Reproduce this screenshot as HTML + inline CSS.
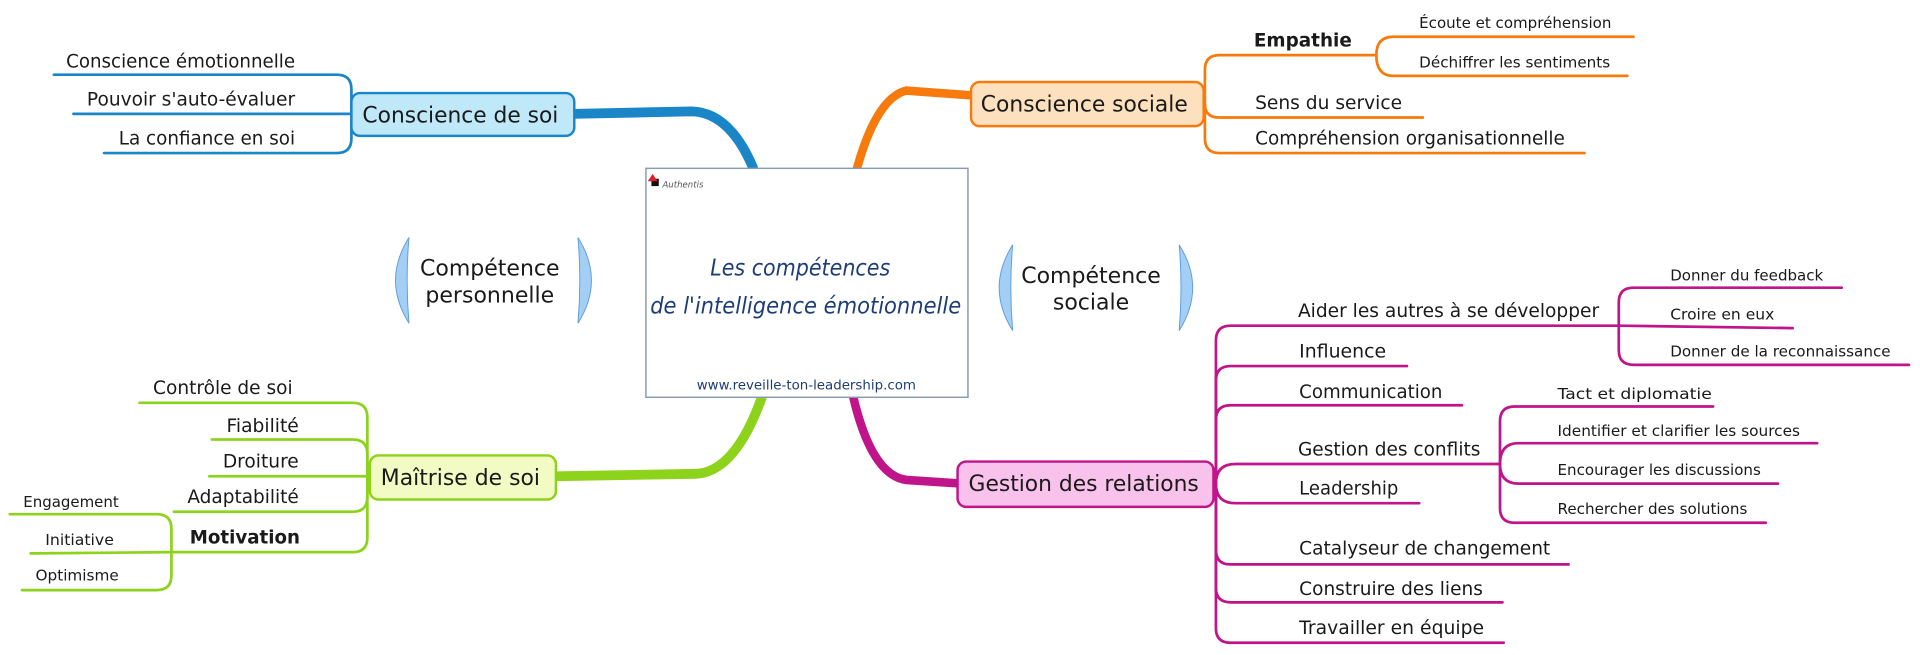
<!DOCTYPE html>
<html><head><meta charset="utf-8"><style>
html,body{margin:0;padding:0;background:#fff;width:1920px;height:655px;overflow:hidden}
svg{display:block}
text{font-family:"DejaVu Sans","Liberation Sans",sans-serif;fill:#1a1a1a}
.m{font-size:15px}.s{font-size:12.5px}.n{font-size:18px}.b{font-weight:bold}
</style></head><body>
<svg width="1920" height="655" viewBox="0 0 1568 535" preserveAspectRatio="none" xmlns="http://www.w3.org/2000/svg">
<g fill="none" stroke-linecap="round">
<path d="M468 93 L565 91 Q596 92 615 137" stroke="#1a86c8" stroke-width="8"/>
<path d="M700 137 Q716 80 740 74 L795 78" stroke="#f77a0c" stroke-width="7"/>
<path d="M455 389 L568 387 Q600 386 622 325" stroke="#8ed31b" stroke-width="8"/>
<path d="M697 325 Q712 388 740 392 L786 395" stroke="#c0148a" stroke-width="7"/>
<g stroke="#1a86c8" stroke-width="2.2">
<path d="M287 93 L287 73 Q287 61 275 61 L44 61"/>
<path d="M287 93 L60 93"/>
<path d="M287 93 L287 113 Q287 125 275 125 L85 125"/>
</g>
<g stroke="#8ed31b" stroke-width="2.2">
<path d="M300 389 L300 341 Q300 329 288 329 L114 329"/>
<path d="M300 389 L300 371 Q300 359 288 359 L173 359"/>
<path d="M302 389 L171 389"/>
<path d="M300 389 L300 406 Q300 418 288 418 L142 418"/>
<path d="M300 389 L300 439 Q300 451 288 451 L140 451"/>
<path d="M140 451 L140 432 Q140 420 128 420 L8 420"/>
<path d="M140 451 L25 452"/>
<path d="M140 451 L140 470 Q140 482 128 482 L18 482"/>
</g>
<g stroke="#f77a0c" stroke-width="2.2">
<path d="M984 85 L984 57 Q984 45 996 45 L1124 45"/>
<path d="M984 85 Q984 96 996 96 L1162 96"/>
<path d="M984 85 L984 113 Q984 125 996 125 L1294 125"/>
<path d="M1124 45 Q1124 30 1138 30 L1334 30"/>
<path d="M1124 45 Q1124 62 1138 62 L1329 62"/>
</g>
<g stroke="#c0148a" stroke-width="2.2">
<path d="M993 395 L993 278 Q993 266 1005 266 L1322 266"/>
<path d="M993 395 L993 311 Q993 299 1005 299 L1149 299"/>
<path d="M993 395 L993 343 Q993 331 1005 331 L1194 331"/>
<path d="M993 395 Q993 379 1009 379 L1225 379"/>
<path d="M993 395 Q993 411 1009 411 L1159 411"/>
<path d="M993 395 L993 449 Q993 461 1005 461 L1281 461"/>
<path d="M993 395 L993 480 Q993 492 1005 492 L1227 492"/>
<path d="M993 395 L993 513 Q993 525 1005 525 L1228 525"/>
<path d="M1225 379 L1225 344 Q1225 332 1237 332 L1399 332"/>
<path d="M1225 379 Q1225 362 1240 362 L1484 362"/>
<path d="M1225 379 Q1225 395 1240 395 L1452 395"/>
<path d="M1225 379 L1225 415 Q1225 427 1237 427 L1442 427"/>
<path d="M1322 266 L1322 247 Q1322 235 1334 235 L1504 235"/>
<path d="M1322 266 L1464 268"/>
<path d="M1322 266 L1322 286 Q1322 298 1334 298 L1559 298"/>
</g>
</g>
<rect x="287" y="76" width="182" height="35" rx="7" fill="#bfe8f9" stroke="#1a86c8" stroke-width="2"/>
<text class="n" x="296" y="100" textLength="160" lengthAdjust="spacingAndGlyphs">Conscience de soi</text>
<rect x="302" y="372" width="152" height="36" rx="7" fill="#f2fbc4" stroke="#8ed31b" stroke-width="2"/>
<text class="n" x="311" y="396" textLength="130" lengthAdjust="spacingAndGlyphs">Maîtrise de soi</text>
<rect x="793" y="67" width="190" height="36" rx="7" fill="#fde0bd" stroke="#f77a0c" stroke-width="2"/>
<text class="n" x="801" y="91" textLength="169" lengthAdjust="spacingAndGlyphs">Conscience sociale</text>
<rect x="782" y="377" width="209" height="37" rx="7" fill="#f9c2ec" stroke="#c0148a" stroke-width="2"/>
<text class="n" x="791" y="401" textLength="188" lengthAdjust="spacingAndGlyphs">Gestion des relations</text>
<rect x="527.5" y="137.5" width="263" height="187" fill="#fff" stroke="#8a9ab0" stroke-width="1.2"/>
<rect x="532" y="146" width="6" height="6" fill="#111"/>
<path d="M529 148 L533 142 L537 148 Z" fill="#d8232a"/>
<text x="541" y="153" style="font-size:7px;font-style:italic;fill:#555">Authentis</text>
<text x="580" y="225" textLength="147" lengthAdjust="spacingAndGlyphs" style="font-size:19px;font-style:italic;fill:#1d3d78">Les compétences</text>
<text x="531" y="256" textLength="254" lengthAdjust="spacingAndGlyphs" style="font-size:19px;font-style:italic;fill:#1d3d78">de l'intelligence émotionnelle</text>
<text x="569" y="318" textLength="179" lengthAdjust="spacingAndGlyphs" style="font-size:11px;fill:#1d3d78">www.reveille-ton-leadership.com</text>
<g fill="#a3cff7" stroke="#5f9fd8" stroke-width="0.8">
<path d="M334 194 Q312 229 334 264 Q331 229 334 194 Z"/>
<path d="M472 194 Q494 229 472 264 Q475 229 472 194 Z"/>
<path d="M827 200 Q805 235 827 270 Q824 235 827 200 Z"/>
<path d="M963 200 Q985 235 963 270 Q966 235 963 200 Z"/>
</g>
<text class="n" x="400" y="225" text-anchor="middle">Compétence</text>
<text class="n" x="400" y="247" text-anchor="middle">personnelle</text>
<text class="n" x="891" y="231" text-anchor="middle">Compétence</text>
<text class="n" x="891" y="253" text-anchor="middle">sociale</text>
<g text-anchor="end">
<text class="m" x="241" y="55" textLength="187" lengthAdjust="spacingAndGlyphs">Conscience émotionnelle</text>
<text class="m" x="241" y="86" textLength="170" lengthAdjust="spacingAndGlyphs">Pouvoir s'auto-évaluer</text>
<text class="m" x="241" y="118" textLength="144" lengthAdjust="spacingAndGlyphs">La confiance en soi</text>
<text class="m" x="239" y="322" textLength="114" lengthAdjust="spacingAndGlyphs">Contrôle de soi</text>
<text class="m" x="244" y="353" textLength="59" lengthAdjust="spacingAndGlyphs">Fiabilité</text>
<text class="m" x="244" y="382" textLength="62" lengthAdjust="spacingAndGlyphs">Droiture</text>
<text class="m" x="244" y="411" textLength="91" lengthAdjust="spacingAndGlyphs">Adaptabilité</text>
<text class="m b" x="245" y="444" textLength="90" lengthAdjust="spacingAndGlyphs">Motivation</text>
<text class="s" x="97" y="414" textLength="78" lengthAdjust="spacingAndGlyphs">Engagement</text>
<text class="s" x="93" y="445" textLength="56" lengthAdjust="spacingAndGlyphs">Initiative</text>
<text class="s" x="97" y="474" textLength="68" lengthAdjust="spacingAndGlyphs">Optimisme</text>
</g>
<text class="m b" x="1024" y="38" textLength="80" lengthAdjust="spacingAndGlyphs">Empathie</text>
<text class="s" x="1159" y="23" textLength="157" lengthAdjust="spacingAndGlyphs">Écoute et compréhension</text>
<text class="s" x="1159" y="55" textLength="156" lengthAdjust="spacingAndGlyphs">Déchiffrer les sentiments</text>
<text class="m" x="1025" y="89" textLength="120" lengthAdjust="spacingAndGlyphs">Sens du service</text>
<text class="m" x="1025" y="118" textLength="253" lengthAdjust="spacingAndGlyphs">Compréhension organisationnelle</text>
<text class="m" x="1060" y="259" textLength="246" lengthAdjust="spacingAndGlyphs">Aider les autres à se développer</text>
<text class="s" x="1364" y="229" textLength="125" lengthAdjust="spacingAndGlyphs">Donner du feedback</text>
<text class="s" x="1364" y="261" textLength="85" lengthAdjust="spacingAndGlyphs">Croire en eux</text>
<text class="s" x="1364" y="291" textLength="180" lengthAdjust="spacingAndGlyphs">Donner de la reconnaissance</text>
<text class="m" x="1061" y="292" textLength="71" lengthAdjust="spacingAndGlyphs">Influence</text>
<text class="m" x="1061" y="325" textLength="117" lengthAdjust="spacingAndGlyphs">Communication</text>
<text class="m" x="1060" y="372" textLength="149" lengthAdjust="spacingAndGlyphs">Gestion des conflits</text>
<text class="m" x="1061" y="404" textLength="81" lengthAdjust="spacingAndGlyphs">Leadership</text>
<text class="m" x="1061" y="453" textLength="205" lengthAdjust="spacingAndGlyphs">Catalyseur de changement</text>
<text class="m" x="1061" y="486" textLength="150" lengthAdjust="spacingAndGlyphs">Construire des liens</text>
<text class="m" x="1061" y="518" textLength="151" lengthAdjust="spacingAndGlyphs">Travailler en équipe</text>
<text class="s" x="1272" y="326" textLength="126" lengthAdjust="spacingAndGlyphs">Tact et diplomatie</text>
<text class="s" x="1272" y="356" textLength="198" lengthAdjust="spacingAndGlyphs">Identifier et clarifier les sources</text>
<text class="s" x="1272" y="388" textLength="166" lengthAdjust="spacingAndGlyphs">Encourager les discussions</text>
<text class="s" x="1272" y="420" textLength="155" lengthAdjust="spacingAndGlyphs">Rechercher des solutions</text>
</svg>
</body></html>
